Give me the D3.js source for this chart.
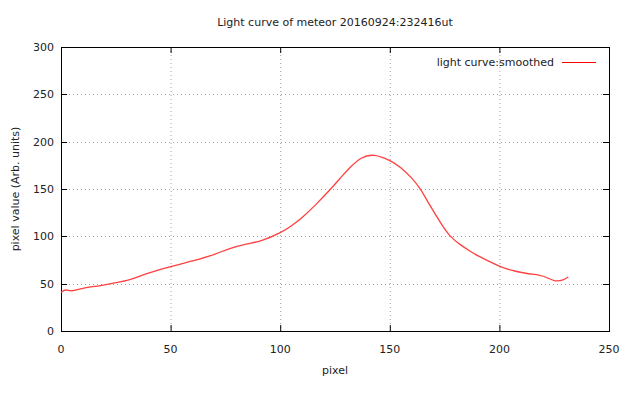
<!DOCTYPE html>
<html>
<head>
<meta charset="utf-8">
<script src="https://cdn.jsdelivr.net/npm/d3@7"></script>
<style>
body { margin: 0; background: #fff; }
svg text { font-family: "DejaVu Sans", sans-serif; font-size: 11px; fill: #222; }
</style>
</head>
<body>
<div></div>
<script>
const width = 640, height = 394
const svg = d3.select("div").append("svg")
	.attr("xmlns", "http://www.w3.org/2000/svg")
	.attr("width", width)
	.attr("height", height)

// data
const pixels = [0, 2.3, 5, 10, 18, 25, 31, 36, 41, 50, 60, 70, 77, 85, 92, 100, 105, 110, 116, 123, 128, 132, 137, 143, 150, 155, 160, 164, 168, 173, 177.5, 182, 186.5, 191, 200, 206, 212, 218, 222, 225.5, 229, 231.4]
const values = [41, 43.3, 42.5, 45, 48, 51, 54, 58, 62, 68, 74, 81, 87, 92, 96, 104, 111, 120, 133, 150, 163, 173, 182.5, 185.5, 180, 172.5, 161.5, 149.5, 134, 115, 100.5, 91.5, 84.5, 78.5, 68.5, 64, 61, 59, 56, 53, 54, 57]
const xTicks = [0, 50, 100, 150, 200, 250]
const yTicks = [0, 50, 100, 150, 200, 250, 300]
const title = "Light curve of meteor 20160924:232416ut"
const seriesName = "light curve:smoothed"

const margin = {left: 61, right: 31, top: 47, bottom: 63}
const x = d3.scaleLinear().domain([0, 250]).range([margin.left, width - margin.right])
const y = d3.scaleLinear().domain([0, 300]).range([height - margin.bottom, margin.top])

// gridlines
svg.append("g").selectAll("line").data(xTicks.slice(1, -1)).enter().append("line")
	.attr("x1", d => x(d) + 0.5).attr("x2", d => x(d) + 0.5)
	.attr("y1", y(300)).attr("y2", y(0))
	.attr("stroke", "#a0a0a0").attr("stroke-dasharray", "1,3")
svg.append("g").selectAll("line").data(yTicks.slice(1, -1)).enter().append("line")
	.attr("x1", x(0)).attr("x2", x(250))
	.attr("y1", d => Math.round(y(d)) + 0.5).attr("y2", d => Math.round(y(d)) + 0.5)
	.attr("stroke", "#a0a0a0").attr("stroke-dasharray", "1,3")

// ticks (inward, mirrored)
const tk = 6
svg.append("g").selectAll("line").data(xTicks).enter().append("line")
	.attr("x1", d => x(d) + 0.5).attr("x2", d => x(d) + 0.5)
	.attr("y1", y(0)).attr("y2", y(0) - tk).attr("stroke", "#000")
svg.append("g").selectAll("line").data(xTicks).enter().append("line")
	.attr("x1", d => x(d) + 0.5).attr("x2", d => x(d) + 0.5)
	.attr("y1", y(300)).attr("y2", y(300) + tk).attr("stroke", "#000")
svg.append("g").selectAll("line").data(yTicks).enter().append("line")
	.attr("x1", x(0)).attr("x2", x(0) + tk)
	.attr("y1", d => Math.round(y(d)) + 0.5).attr("y2", d => Math.round(y(d)) + 0.5).attr("stroke", "#000")
svg.append("g").selectAll("line").data(yTicks).enter().append("line")
	.attr("x1", x(250)).attr("x2", x(250) - tk)
	.attr("y1", d => Math.round(y(d)) + 0.5).attr("y2", d => Math.round(y(d)) + 0.5).attr("stroke", "#000")

// frame
svg.append("rect")
	.attr("x", x(0) + 0.5).attr("y", Math.round(y(300)) + 0.5)
	.attr("width", x(250) - x(0)).attr("height", Math.round(y(0)) - Math.round(y(300)))
	.attr("fill", "none").attr("stroke", "#000")

// tick labels
svg.append("g").selectAll("text").data(xTicks).enter().append("text")
	.attr("x", d => x(d)).attr("y", y(0) + 22)
	.attr("text-anchor", "middle").text(d => d)
svg.append("g").selectAll("text").data(yTicks).enter().append("text")
	.attr("x", x(0) - 7).attr("y", d => y(d) + 4)
	.attr("text-anchor", "end").text(d => d)

// curve
const line = d3.line()
	.x((d, i) => x(pixels[i]))
	.y(d => y(d))
	.curve(d3.curveNatural)
svg.append("path")
	.attr("d", line(values))
	.attr("fill", "none")
	.attr("stroke", "#ff4040")
	.attr("stroke-width", 1.3)

// legend
svg.append("text").attr("x", 554).attr("y", 66).attr("text-anchor", "end").text(seriesName)
svg.append("line").attr("x1", 562).attr("x2", 596).attr("y1", 62.5).attr("y2", 62.5)
	.attr("stroke", "#ff0000")

// title and axis labels
svg.append("text").attr("x", 335).attr("y", 26).attr("text-anchor", "middle").text(title)
svg.append("text").attr("x", 335).attr("y", 374).attr("text-anchor", "middle").text("pixel")
svg.append("text").attr("transform", `translate(19,${y(150)}) rotate(-90)`)
	.attr("text-anchor", "middle").text("pixel value (Arb. units)")
</script>
</body>
</html>
